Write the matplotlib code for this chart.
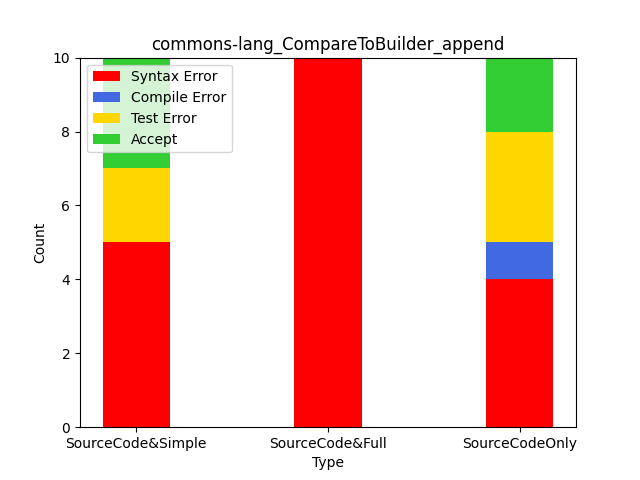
import numpy as np
import matplotlib.pyplot as plt

types = ["SourceCode&Simple", "SourceCode&Full", "SourceCodeOnly"]
syntax_err = [5, 10, 4]
compile_err = [0, 0, 1]
test_err = [2, 0, 3]
accept = [3, 0, 2]

x = np.arange(len(types))
width = 0.35

fig, ax = plt.subplots(figsize=(6.4, 4.8), dpi=100)
bottom = np.zeros(len(types))
for vals, label, color in [(syntax_err, "Syntax Error", "red"),
                           (compile_err, "Compile Error", "royalblue"),
                           (test_err, "Test Error", "gold"),
                           (accept, "Accept", "limegreen")]:
    ax.bar(x, vals, width, bottom=bottom, label=label, color=color)
    bottom += np.array(vals)

ax.set_xticks(x)
ax.set_xticklabels(types)
ax.set_xlabel("Type")
ax.set_ylabel("Count")
ax.set_title("commons-lang_CompareToBuilder_append")
ax.set_ylim(0, 10)
ax.legend(loc="upper left")
fig.savefig("out.png")
